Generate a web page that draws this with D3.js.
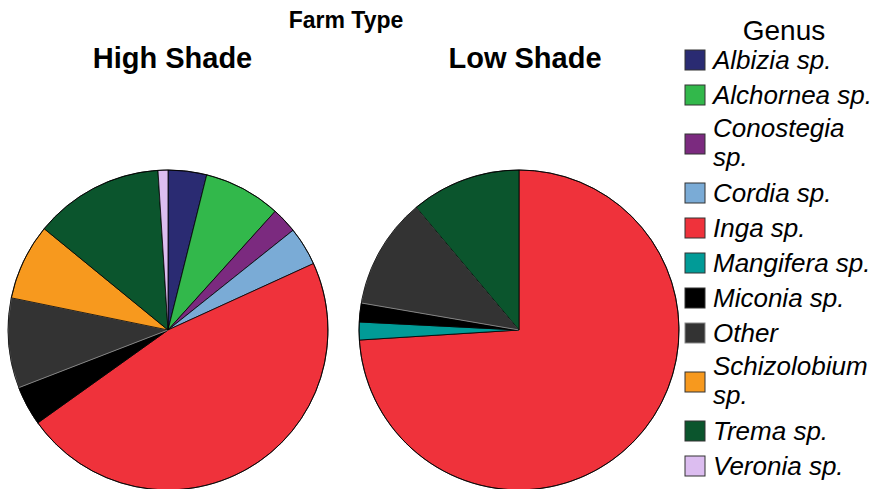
<!DOCTYPE html>
<html>
<head>
<meta charset="utf-8">
<script src="https://cdn.jsdelivr.net/npm/d3@7"></script>
<style>
  html, body { margin: 0; padding: 0; background: #ffffff; }
  svg { display: block; }
  text { font-family: "Liberation Sans", Arial, Helvetica, sans-serif; }
</style>
</head>
<body>
<script>
// ---- data ----
const genera = ["Albizia sp.", "Alchornea sp.", "Conostegia sp.", "Cordia sp.", "Inga sp.",
  "Mangifera sp.", "Miconia sp.", "Other", "Schizolobium sp.", "Trema sp.", "Veronia sp."];
const genusColors = ["#2a2b72", "#32b84b", "#7b2a7f", "#7aabd6", "#ef323b",
  "#019b97", "#000000", "#333333", "#f7991e", "#0b552d", "#dcbdf0"];
const farmTypes = ["High Shade", "Low Shade"];
const highShade = [3.9, 7.8, 2.6, 3.9, 47.0, 0, 4.0, 9.1, 7.7, 13.1, 1.0];
const lowShade  = [0, 0, 0, 0, 74.0, 1.8, 1.9, 11.2, 0, 11.1, 0];
const chartTitle = "Farm Type";
const legendTitle = "Genus";

// ---- layout ----
const W = 877, H = 489;
const svg = d3.select("body").append("svg").attr("width", W).attr("height", H);

const color = d3.scaleOrdinal().domain(genera).range(genusColors);
const pie = d3.pie().sort(null).value(d => d.value).startAngle(0).endAngle(2 * Math.PI);
const R = 160;
const arc = d3.arc().innerRadius(0).outerRadius(R);
const centers = [168, 519];
const cy = 330;

svg.append("text").attr("x", 346).attr("y", 28).attr("text-anchor", "middle")
  .attr("font-size", 23).attr("font-weight", "bold").text(chartTitle);

const titleX = [172.5, 525];
[highShade, lowShade].forEach((vals, i) => {
  const data = genera.map((g, k) => ({ genus: g, value: vals[k] }));
  const g = svg.append("g").attr("transform", `translate(${centers[i]},${cy})`);
  g.selectAll("path").data(pie(data).filter(d => d.data.value > 0)).join("path")
    .attr("d", arc)
    .attr("fill", d => color(d.data.genus))
    .attr("stroke", d => d.data.genus === "Other" ? "#9a9a9a" : "#000000")
    .attr("stroke-width", 0.8);
  g.append("circle").attr("r", R).attr("fill", "none").attr("stroke", "#000").attr("stroke-width", 0.8);
  svg.append("text").attr("x", titleX[i]).attr("y", 68).attr("text-anchor", "middle")
    .attr("font-size", 29).attr("font-weight", "bold").text(farmTypes[i]);
});

// ---- legend ----
const lg = svg.append("g");
lg.append("text").attr("x", 784).attr("y", 40).attr("text-anchor", "middle")
  .attr("font-size", 28).text(legendTitle);

const fs = 26, maxW = 166, keyX = 685, textX = 713, keySize = 20;
const meas = svg.append("text").attr("font-size", fs).attr("font-style", "italic").attr("x", -999);
function wrap(label) {
  meas.text(label);
  if (meas.node().getComputedTextLength() <= maxW) return [label];
  const parts = label.split(" ");
  const last = parts.pop();
  return [parts.join(" "), last];
}
let cyL = 60;
genera.forEach((gname, k) => {
  const lines = wrap(gname);
  if (k > 0) {
    const prevLines = wrap(genera[k - 1]);
    cyL += (prevLines.length === 2 ? 31.5 : 17.5) + (lines.length === 2 ? 31.5 : 17.5);
  }
  lg.append("rect").attr("x", keyX).attr("y", cyL - keySize / 2).attr("width", keySize).attr("height", keySize)
    .attr("fill", color(gname)).attr("stroke", gname === "Other" ? "#8a8a8a" : "#333").attr("stroke-width", 1);
  const t = lg.append("text").attr("font-size", fs).attr("font-style", "italic");
  if (lines.length === 1) {
    t.append("tspan").attr("x", textX).attr("y", cyL + 8.5).text(lines[0]);
  } else {
    t.append("tspan").attr("x", textX).attr("y", cyL - 7).text(lines[0]);
    t.append("tspan").attr("x", textX).attr("y", cyL + 22).text(lines[1]);
  }
});
meas.remove();
</script>
</body>
</html>
